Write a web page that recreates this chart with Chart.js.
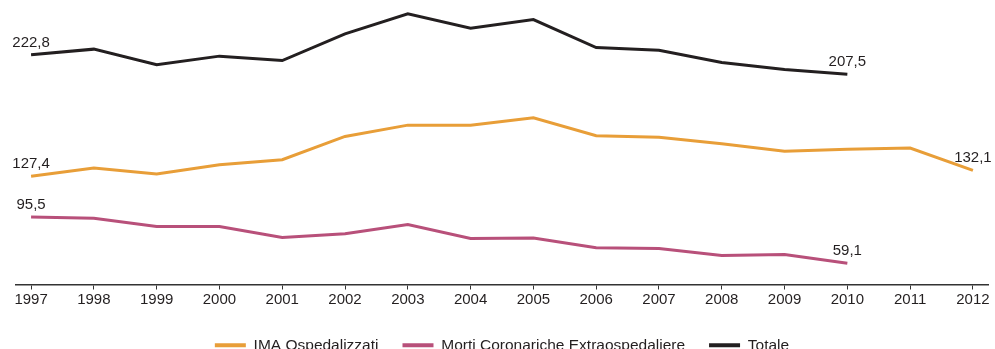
<!DOCTYPE html>
<html>
<head>
<meta charset="utf-8">
<script src="https://cdn.jsdelivr.net/npm/chart.js@4"></script>
<style>
    html, body { margin: 0; padding: 0; background: #fff; overflow: hidden; }
    #wrap { width: 995px; height: 363px; position: relative; }
</style>
</head>
<body>
<div id="wrap"><canvas id="trendChart"></canvas></div>
<script>
// Data
const years = [1997, 1998, 1999, 2000, 2001, 2002, 2003, 2004, 2005, 2006, 2007, 2008, 2009, 2010, 2011, 2012];
const imaOspedalizzati = [127.4, 133.9, 129.2, 136.5, 140.4, 158.7, 167.6, 167.6, 173.4, 159.3, 158.0, 153.0, 147.0, 148.6, 149.6, 132.1];
const mortiExtraosp = [95.5, 94.4, 87.9, 87.9, 79.3, 82.2, 89.5, 78.5, 79.0, 71.2, 70.6, 65.2, 66.0, 59.1];
const totale = [222.8, 227.3, 215.0, 221.8, 218.3, 239.3, 255.0, 243.7, 250.5, 228.5, 226.5, 216.8, 211.3, 207.5];

const textColor = '#231F20';
const fontFamily = 'Arial, "Liberation Sans", Helvetica, sans-serif';

function toPoints(values) {
    return values.map((v, i) => ({ x: years[i], y: v }));
}

function formatIt(v) {
    return v.toFixed(1).replace('.', ',');
}

// Labels on first and last point of each series
const endLabels = {
    id: 'endLabels',
    afterDatasetsDraw(chart) {
        const ctx = chart.ctx;
        ctx.save();
        ctx.font = '15px ' + fontFamily;
        ctx.fillStyle = textColor;
        ctx.textAlign = 'center';
        ctx.textBaseline = 'bottom';
        chart.data.datasets.forEach((ds, di) => {
            const meta = chart.getDatasetMeta(di);
            [0, ds.data.length - 1].forEach(i => {
                const pt = meta.data[i];
                ctx.fillText(formatIt(ds.data[i].y), pt.x, pt.y - 5);
            });
        });
        ctx.restore();
    }
};

const ctx = document.getElementById('trendChart').getContext('2d');
new Chart(ctx, {
    type: 'line',
    data: {
        datasets: [
            {
                label: 'IMA Ospedalizzati',
                data: toPoints(imaOspedalizzati),
                borderColor: '#E89E38',
                backgroundColor: '#E89E38',
                borderWidth: 3
            },
            {
                label: 'Morti Coronariche Extraospedaliere',
                data: toPoints(mortiExtraosp),
                borderColor: '#B8507A',
                backgroundColor: '#B8507A',
                borderWidth: 3
            },
            {
                label: 'Totale',
                data: toPoints(totale),
                borderColor: '#231F20',
                backgroundColor: '#231F20',
                borderWidth: 3
            }
        ]
    },
    options: {
        responsive: true,
        maintainAspectRatio: false,
        animation: false,
        clip: false,
        elements: {
            point: { radius: 0, hoverRadius: 0 },
            line: { tension: 0, borderCapStyle: 'butt', borderJoinStyle: 'miter' }
        },
        layout: {
            padding: { left: 16, right: 7, top: 0, bottom: 0 }
        },
        plugins: {
            legend: {
                position: 'bottom',
                labels: {
                    boxWidth: 31,
                    boxHeight: 4,
                    padding: 24,
                    color: textColor,
                    font: { size: 15.5, family: fontFamily },
                    generateLabels: chart => chart.data.datasets.map((ds, i) => ({
                        text: ds.label,
                        fillStyle: ds.borderColor,
                        strokeStyle: ds.borderColor,
                        lineWidth: 0,
                        fontColor: textColor,
                        hidden: false,
                        datasetIndex: i
                    }))
                }
            },
            tooltip: { enabled: false }
        },
        scales: {
            x: {
                type: 'linear',
                min: 1996.76,
                max: 2012.24,
                afterFit: scale => { scale.height += 4; },
                grid: {
                    display: true,
                    drawOnChartArea: false,
                    drawTicks: true,
                    tickLength: 5,
                    color: '#333',
                    lineWidth: 1
                },
                border: { display: true, color: '#333', width: 1.5 },
                ticks: {
                    stepSize: 1,
                    includeBounds: false,
                    autoSkip: false,
                    maxRotation: 0,
                    padding: 1,
                    color: textColor,
                    font: { size: 15, family: fontFamily },
                    callback: value => Number.isInteger(value) ? String(value) : ''
                }
            },
            y: {
                display: false,
                min: 42.4,
                max: 265.9
            }
        }
    },
    plugins: [endLabels]
});
</script>
</body>
</html>
